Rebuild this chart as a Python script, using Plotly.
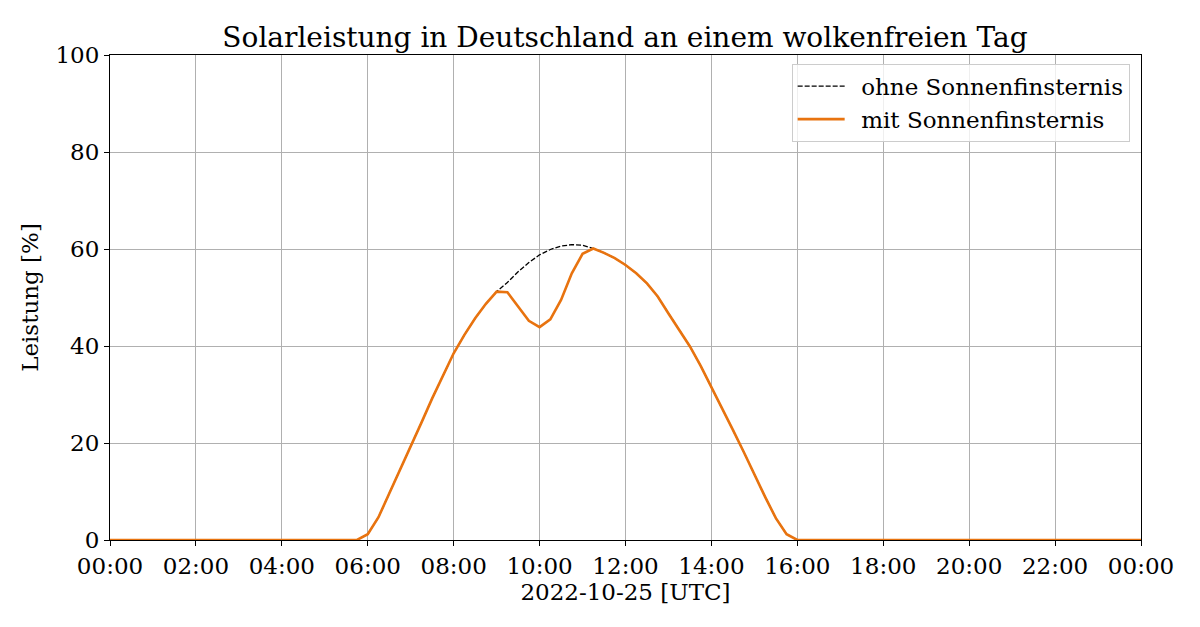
import pandas as pd
import plotly.graph_objects as go

# 15-minute timestamps for 2022-10-25 (UTC), 00:00 .. next day 00:00
times = pd.date_range("2022-10-25 00:00", "2022-10-26 00:00", freq="15min")

# Solar power [%] without eclipse
ohne = [
    0, 0, 0, 0, 0, 0, 0, 0, 0, 0, 0, 0,          # 00:00-02:45
    0, 0, 0, 0, 0, 0, 0, 0, 0, 0, 0, 0,          # 03:00-05:45
    1.2, 4.7, 9.6, 14.4, 19.2, 24.2, 29.2, 34.0,  # 06:00-07:45
    38.5, 42.3, 45.7, 48.7, 51.2, 53.1, 55.3, 57.2,  # 08:00-09:45
    58.8, 59.9, 60.6, 60.9, 60.8, 60.1, 59.2, 58.1,  # 10:00-11:45
    56.7, 55.0, 52.9, 50.2, 46.7, 43.3, 39.9, 35.9,  # 12:00-13:45
    31.6, 27.1, 22.7, 18.2, 13.4, 8.9, 4.5, 1.2,     # 14:00-15:45
    0, 0, 0, 0, 0, 0, 0, 0, 0, 0, 0,             # 16:00-18:30
    0, 0, 0, 0, 0, 0, 0, 0, 0, 0, 0,             # 18:45-21:15
    0, 0, 0, 0, 0, 0, 0, 0, 0, 0, 0,             # 21:30-24:00
]

# Solar power [%] with eclipse
mit = [
    0, 0, 0, 0, 0, 0, 0, 0, 0, 0, 0, 0,
    0, 0, 0, 0, 0, 0, 0, 0, 0, 0, 0, 0,
    1.2, 4.7, 9.6, 14.4, 19.2, 24.2, 29.2, 34.0,
    38.5, 42.3, 45.7, 48.7, 51.2, 51.1, 48.1, 45.2,
    43.9, 45.5, 49.5, 55.0, 59.0, 60.1, 59.2, 58.1,
    56.7, 55.0, 52.9, 50.2, 46.7, 43.3, 39.9, 35.9,
    31.6, 27.1, 22.7, 18.2, 13.4, 8.9, 4.5, 1.2,
    0, 0, 0, 0, 0, 0, 0, 0, 0, 0, 0,
    0, 0, 0, 0, 0, 0, 0, 0, 0, 0, 0,
    0, 0, 0, 0, 0, 0, 0, 0, 0, 0, 0,
]

series_names = ["ohne Sonnenfinsternis", "mit Sonnenfinsternis"]
y_ticks = [0, 20, 40, 60, 80, 100]

FONT = "DejaVu Serif"
ORANGE = "#e8730f"
GRID = "#b0b0b0"
FS = 23

# page body has an 8px margin; figure sized to fit inside the window
W, H = 1184, 611

fig = go.Figure()
fig.add_trace(go.Scatter(
    x=times, y=ohne, mode="lines", name="\u2002" + series_names[0],
    line=dict(color="black", width=1.3, dash="5px,2px"),
))
fig.add_trace(go.Scatter(
    x=times, y=mit, mode="lines", name="\u2002" + series_names[1],
    line=dict(color=ORANGE, width=2.6),
))

fig.update_layout(
    width=W, height=H,
    margin=dict(l=102, r=51, t=47, b=79),
    paper_bgcolor="white", plot_bgcolor="white",
    font=dict(family=FONT, size=FS, color="black"),
    title=dict(text="Solarleistung in Deutschland an einem wolkenfreien Tag",
               x=(625 - 8) / W, xanchor="center", y=1 - 29 / H, yanchor="middle",
               font=dict(family=FONT, size=28, color="black")),
    showlegend=True,
    legend=dict(x=0.989, y=0.982, xanchor="right", yanchor="top",
                bgcolor="rgba(255,255,255,0.8)", bordercolor="#cccccc",
                borderwidth=1, font=dict(family=FONT, size=FS),
                itemwidth=47, tracegroupgap=0),
)

fig.update_xaxes(
    range=[times[0], times[-1]],
    tickformat="%H:%M", dtick=2 * 3600 * 1000, tick0=times[0],
    showgrid=True, gridcolor=GRID, gridwidth=1,
    showline=True, linecolor="black", linewidth=1, mirror=True,
    ticks="outside", ticklen=5, tickcolor="black",
    tickfont=dict(family=FONT, size=FS),
    title=dict(text="2022-10-25 [UTC]", font=dict(family=FONT, size=FS), standoff=2),
    zeroline=False,
)
fig.update_yaxes(
    range=[0, 100], tickvals=y_ticks,
    showgrid=True, gridcolor=GRID, gridwidth=1,
    showline=True, linecolor="black", linewidth=1, mirror=True,
    ticks="outside", ticklen=5, tickcolor="black",
    tickfont=dict(family=FONT, size=FS),
    title=dict(text="Leistung [%]", font=dict(family=FONT, size=FS), standoff=10),
    zeroline=False,
)

fig.write_html("out.html")
